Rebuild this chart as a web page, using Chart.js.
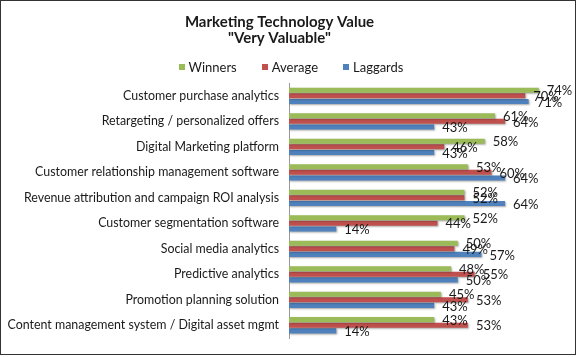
<!DOCTYPE html>
<html>
<head>
<meta charset="utf-8">
<script src="https://cdn.jsdelivr.net/npm/chart.js@4/dist/chart.umd.min.js"></script>
<style>
html,body{margin:0;padding:0;background:#fff;}
#wrap{width:577px;height:357px;position:relative;}
</style>
</head>
<body>
<div id="wrap"><canvas id="c" width="577" height="357"></canvas></div>
<script>
const categories = [
  "Customer purchase analytics",
  "Retargeting / personalized offers",
  "Digital Marketing platform",
  "Customer relationship management software",
  "Revenue attribution and campaign ROI analysis",
  "Customer segmentation software",
  "Social media analytics",
  "Predictive analytics",
  "Promotion planning solution",
  "Content management system / Digital asset mgmt"
];
const winners  = [74, 61, 58, 53, 52, 52, 50, 48, 45, 43];
const average  = [70, 64, 46, 60, 52, 44, 49, 55, 53, 53];
const laggards = [71, 43, 43, 64, 64, 14, 57, 50, 43, 14];
const seriesNames = ["Winners", "Average", "Laggards"];
const seriesColors = ["#9BBB59", "#C0504D", "#4F81BD"];
const titleLines = ["Marketing Technology Value", "\"Very Valuable\""];

const FONT = "Lato, 'Open Sans', sans-serif";

const frame = {
  id: 'frame',
  afterDraw(chart) {
    const ctx = chart.ctx;
    ctx.save();
    ctx.strokeStyle = '#333';
    ctx.lineWidth = 1;
    ctx.strokeRect(0.5, 0.5, 575, 354);
    ctx.restore();
  }
};

const customLegend = {
  id: 'customLegend',
  afterDraw(chart) {
    const ctx = chart.ctx;
    ctx.save();
    ctx.font = "13px " + FONT;
    ctx.textBaseline = 'middle';
    ctx.textAlign = 'left';
    const box = 6, gapBox = 4, gapItem = 25, cy = 67;
    const widths = chart.data.datasets.map(ds => box + gapBox + ctx.measureText(ds.label).width);
    const total = widths.reduce((a, b) => a + b, 0) + gapItem * (widths.length - 1);
    let x = 291 - total / 2;
    chart.data.datasets.forEach((ds, i) => {
      ctx.fillStyle = ds.backgroundColor;
      ctx.fillRect(Math.round(x), cy - 3, box, box);
      ctx.fillStyle = '#1a1a1a';
      ctx.fillText(ds.label, x + box + gapBox, cy + 0.5);
      x += widths[i] + gapItem;
    });
    ctx.restore();
  }
};

const shadow = {
  id: 'shadow',
  beforeDatasetsDraw(chart) {
    const ctx = chart.ctx;
    ctx.save();
    ctx.shadowColor = 'rgba(0,0,0,0.35)';
    ctx.shadowBlur = 2;
    ctx.shadowOffsetX = 1;
    ctx.shadowOffsetY = 1;
  },
  afterDatasetsDraw(chart) {
    chart.ctx.restore();
  }
};

const valueLabels = {
  id: 'valueLabels',
  afterDatasetsDraw(chart) {
    const ctx = chart.ctx;
    ctx.save();
    ctx.font = "13px " + FONT;
    ctx.fillStyle = '#1a1a1a';
    ctx.textAlign = 'left';
    ctx.textBaseline = 'middle';
    chart.data.datasets.forEach((ds, di) => {
      const meta = chart.getDatasetMeta(di);
      meta.data.forEach((bar, i) => {
        ctx.fillText(ds.data[i] + '%', bar.x + 8, bar.y + 1);
      });
    });
    ctx.restore();
  }
};

new Chart(document.getElementById('c'), {
  type: 'bar',
  data: {
    labels: categories,
    datasets: seriesNames.map((name, i) => ({
      label: name,
      data: [winners, average, laggards][i],
      backgroundColor: seriesColors[i]
    }))
  },
  options: {
    indexAxis: 'y',
    responsive: false,
    animation: false,
    devicePixelRatio: 1,
    layout: { padding: { left: 0, right: 18, top: 0, bottom: 19 } },
    datasets: { bar: { barPercentage: 0.9, categoryPercentage: 0.66 } },
    plugins: {
      title: {
        display: true,
        text: titleLines,
        color: '#1a1a1a',
        font: { family: FONT, size: 15, weight: 'bold', lineHeight: 1.07 },
        padding: { top: 14, bottom: 37 }
      },
      legend: { display: false },
      tooltip: { enabled: false }
    },
    scales: {
      x: {
        display: false,
        min: 0, max: 80
      },
      y: {
        grid: { display: false, drawTicks: false },
        border: { display: true, color: '#999' },
        ticks: { color: '#1a1a1a', font: { family: FONT, size: 12.4 }, padding: 10 },
        afterFit(scale) { scale.width = 289; }
      }
    }
  },
  plugins: [shadow, valueLabels, customLegend, frame]
});
</script>
</body>
</html>
